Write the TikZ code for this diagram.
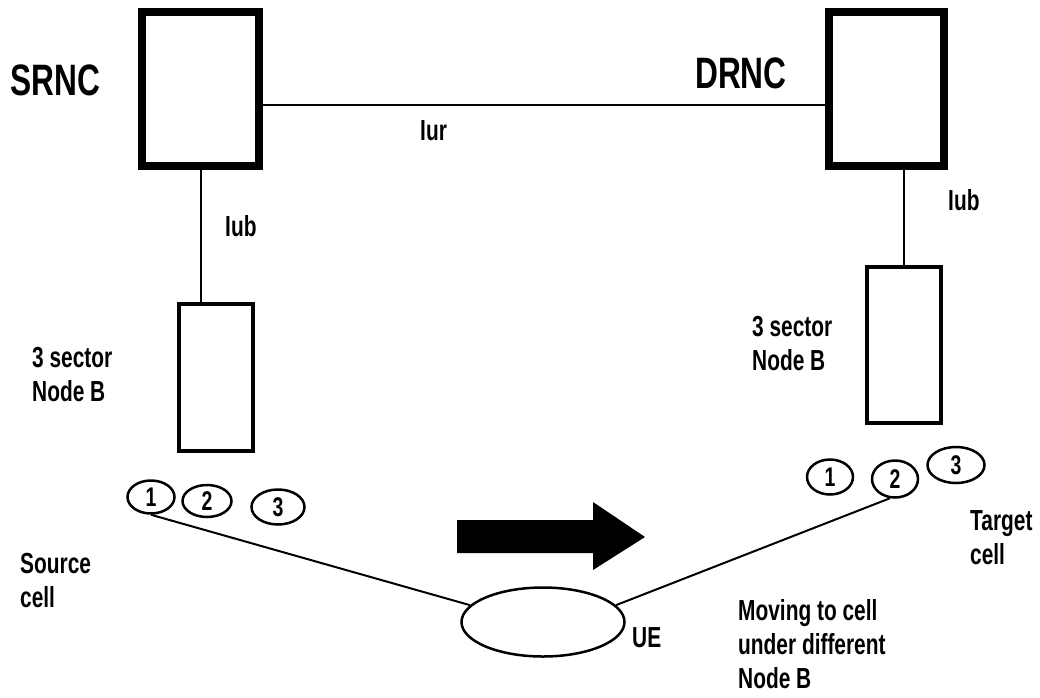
\documentclass[tikz,border=0pt]{standalone}
\usepackage{fontspec}
\setmainfont{Liberation Sans}[FakeStretch=0.72,BoldFont={Liberation Sans Bold}]
\usetikzlibrary{shapes.geometric}
\tikzset{
  thickbox/.style={draw, line width=8pt, rectangle, inner sep=0pt},
  nodeb/.style={draw, line width=3.5pt, rectangle, inner sep=0pt, minimum width=74pt},
  cellell/.style={draw, ellipse, line width=2.5pt, inner sep=0pt, font=\fontsize{27}{27}\selectfont\bfseries},
  link/.style={line width=2pt},
  lbl/.style={anchor=base west, inner sep=0pt, font=\fontsize{29}{34}\selectfont\bfseries, align=left},
  biglbl/.style={anchor=base west, inner sep=0pt, font=\fontsize{44}{44}\selectfont\bfseries}
}
\begin{document}
\begin{tikzpicture}[x=1pt,y=-1pt]
\useasboundingbox (0,0) rectangle (1040,697);
\fill[white] (0,0) rectangle (1040,697);
% RNC boxes
\node[thickbox, minimum width=117pt, minimum height=154pt] (srnc) at (200.5,89) {};
\node[thickbox, minimum width=115pt, minimum height=154pt] (drnc) at (886.5,89) {};
% Node B boxes
\node[nodeb, minimum height=147pt] (nbl) at (216,377.5) {};
\node[nodeb, minimum height=156pt] (nbr) at (904,345) {};
% cells
\node[cellell, minimum width=47pt, minimum height=33pt] (l1) at (151,497) {1};
\node[cellell, minimum width=49pt, minimum height=32pt] (l2) at (207,501) {2};
\node[cellell, minimum width=53pt, minimum height=35pt] (l3) at (278,507) {3};
\node[cellell, minimum width=46pt, minimum height=35pt] (r1) at (830,477) {1};
\node[cellell, minimum width=46pt, minimum height=37pt] (r2) at (895,479) {2};
\node[cellell, minimum width=57pt, minimum height=36pt] (r3) at (956,465) {3};
% UE
\node[draw, ellipse, line width=2.5pt, minimum width=163pt, minimum height=69pt, inner sep=0pt] (ue) at (543,622) {};
% connectors
\coordinate (iury) at (0,105);
\draw[link] (srnc.east |- iury) -- (drnc.west |- iury);
\draw[link] (srnc.south) -- (srnc.south |- nbl.north);
\draw[link] (nbr.north) -- (nbr.north |- drnc.south);
\draw[link] (l1.south) -- (ue.167);
\draw[link] (ue.13) -- (r2.255);
% movement arrow
\fill[black] (457,520) -- (593,520) -- (593,502) -- (645,537) -- (593,570) -- (593,553) -- (457,553) -- cycle;
% labels (multi-line labels are placed by the baseline of their last line)
\node[biglbl] (tsrnc) at (10,95) {SRNC};
\node[biglbl] (tdrnc) at (695,88) {DRNC};
\node[lbl] (tiur) at (420,140) {Iur};
\node[lbl] (tiubl) at (225,236) {Iub};
\node[lbl] (tiubr) at (948,210) {Iub};
\node[lbl] (tnbl) at (32,401) {3 sector\\Node B};
\node[lbl] (tnbr) at (752,370) {3 sector\\Node B};
\node[lbl] (tsrc) at (20,607) {Source\\cell};
\node[lbl] (ttgt) at (970,564) {Target\\cell};
\node[lbl] (tue) at (632,647) {UE};
\node[lbl] (tmov) at (738,688) {Moving to cell\\under different\\Node B};
\end{tikzpicture}
\end{document}
